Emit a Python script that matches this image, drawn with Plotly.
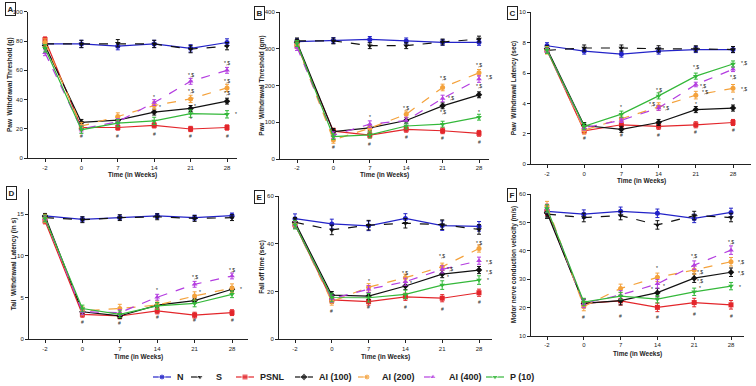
import plotly.graph_objects as go

weeks = ["-2", "0", "7", "14", "21", "28"]
groups = ["N", "S", "PSNL", "AI (100)", "AI (200)", "AI (400)", "P (10)"]

# ---- Panel A: Paw withdrawal threshold (g)
A_N = [78, 78, 76.5, 78, 75, 79]
A_S = [78, 78, 78.5, 78, 74.5, 76.5]
A_PSNL = [81, 21, 21, 22.5, 20, 21]
A_AI100 = [77, 24.5, 26, 31.5, 34, 39]
A_AI200 = [79, 22, 28.5, 36, 40.5, 48]
A_AI400 = [72, 20, 25, 38, 52.5, 60]
A_P10 = [75, 19.5, 24, 25.5, 30.5, 30]
A_SEM = [2.5, 2.5, 1.8, 2, 2.5, 2, 2.5]

# ---- Panel B: Paw withdrawal threshold (gm)
B_N = [320, 323, 326, 322, 318, 318]
B_S = [322, 322, 309, 309, 319, 327]
B_PSNL = [310, 76, 65, 81, 77, 70]
B_AI100 = [318, 75, 85, 105, 145, 175]
B_AI200 = [310, 52, 84, 122, 195, 235]
B_AI400 = [305, 65, 95, 105, 165, 218]
B_P10 = [315, 61, 66, 90, 95, 114]
B_SEM = [8, 8, 8, 8, 9, 9, 8]

# ---- Panel C: Paw withdrawal latency (sec)
C_N = [7.8, 7.45, 7.25, 7.45, 7.55, 7.55]
C_S = [7.5, 7.65, 7.65, 7.6, 7.6, 7.55]
C_PSNL = [7.5, 2.2, 2.6, 2.5, 2.6, 2.75]
C_AI100 = [7.6, 2.55, 2.3, 2.75, 3.6, 3.7]
C_AI200 = [7.5, 2.25, 3.0, 3.8, 4.55, 5.0]
C_AI400 = [7.5, 2.4, 2.9, 3.7, 5.25, 6.25]
C_P10 = [7.5, 2.5, 3.3, 4.5, 5.8, 6.6]
C_SEM = [0.2, 0.2, 0.2, 0.2, 0.25, 0.15, 0.2]

# ---- Panel D: Tail withdrawal latency (in s)
D_N = [14.8, 14.4, 14.6, 14.8, 14.6, 14.85]
D_S = [14.6, 14.35, 14.6, 14.7, 14.5, 14.6]
D_PSNL = [14.2, 3.0, 2.8, 3.4, 2.9, 3.2]
D_AI100 = [14.8, 3.3, 2.8, 4.1, 4.65, 6.0]
D_AI200 = [14.5, 3.4, 3.7, 4.1, 5.2, 6.15]
D_AI400 = [14.5, 3.3, 3.2, 5.05, 6.6, 7.6]
D_P10 = [14.5, 3.7, 3.0, 4.0, 4.3, 5.4]
D_SEM = [0.3, 0.35, 0.35, 0.3, 0.5, 0.35, 0.4]

# ---- Panel E: Fall off time (sec)
E_N = [50.5, 48.3, 47.5, 50.6, 47.6, 47.3]
E_S = [49, 45.8, 47.8, 48.6, 48, 46]
E_PSNL = [48, 16.5, 15.8, 17.8, 17.2, 19.5]
E_AI100 = [49, 18.5, 18.1, 22.3, 27.3, 29]
E_AI200 = [48, 15.8, 21.8, 25.8, 30.4, 38]
E_AI400 = [48, 17, 21, 24.1, 29.3, 32.9]
E_P10 = [48, 17.5, 17.4, 18.8, 22.7, 24.8]
E_SEM = [2, 2, 1.5, 1.5, 1.5, 1.5, 1.8]

# ---- Panel F: Motor nerve conduction velocity (m/s)
F_N = [54, 53, 54, 53.3, 51.5, 53.6]
F_S = [53, 51.8, 52.5, 49.2, 52.5, 51.8]
F_PSNL = [54, 21.5, 22.4, 20.1, 21.8, 21]
F_AI100 = [53.5, 21.5, 22.5, 25.3, 30.4, 32.5]
F_AI200 = [56, 20.4, 26.8, 30.7, 33.3, 36.2]
F_AI400 = [55, 21.5, 24.5, 28.4, 35, 40.3]
F_P10 = [55, 22, 24.1, 23, 25.6, 27.6]
F_SEM = [1.5, 1.5, 1.5, 1.5, 1.5, 1.5, 1.3]

# significance marks: (time index, y value, text)
A_marks = [(1, 15.5, "#"), (2, 15.5, "#"), (3, 16.5, "#"), (4, 15, "#"), (5, 15.5, "#"),
           (3, 42, "*"), (3.17, 35, "*"), (4, 57, "*,$"), (4, 46, "*,$"), (4.12, 36, "*"),
           (4, 26.5, "*"), (5, 65, "*,$"), (5, 53, "*,$"), (5, 44.5, "*,$"), (5.25, 30, "*")]
B_marks = [(1, 32, "#"), (2, 42, "#"), (3, 60, "#"), (4, 57, "#"), (5, 46, "#"),
           (2, 115, "*"), (3, 139, "*,$"), (4, 220, "*,$"), (4.22, 165, "*,$"), (4, 127, "*,$"),
           (5, 256, "*,$"), (5.27, 223, "*,$"), (5, 199, "*,$"), (5, 128, "*")]
C_marks = [(1, 1.75, "#"), (2, 1.9, "#"), (3, 1.9, "#"), (4, 2.15, "#"), (5, 2.25, "#"),
           (2, 3.75, "*"), (3, 4.9, "*,$"), (2.82, 4.0, "*,$"), (3.2, 3.7, "*,$"),
           (4, 6.4, "*,$"), (4.2, 5.15, "*,$"), (4.25, 4.75, "*,$"), (4, 4.0, "*"),
           (5.3, 6.65, "*,$"), (5, 5.75, "*,$"), (5.3, 4.95, "*,$"), (5, 4.2, "*")]
D_marks = [(1, 2.1, "#"), (2, 1.95, "#"), (3, 2.7, "#"), (4, 2.3, "#"), (5, 2.3, "#"),
           (3, 5.9, "*"), (4, 7.5, "*,$"), (4.15, 5.7, "*"), (5, 8.3, "*,$"), (5.25, 6.0, "*")]
E_marks = [(1, 12, "#"), (2, 13.5, "#"), (3, 13.7, "#"), (4, 12.7, "#"), (5, 15.7, "#"),
           (2, 24.5, "*"), (3, 27.9, "*,$"), (3.15, 23.5, "*"), (4, 34.9, "*,$"),
           (4.22, 29.4, "*,$"), (4.15, 26.2, "*"), (5, 40.5, "*,$"), (5.27, 32.5, "*,$"),
           (5.27, 28.3, "*,$"), (5.25, 24.8, "*")]
F_marks = [(1, 16.8, "#"), (2, 17.2, "#"), (3, 16.8, "#"), (4, 17.8, "#"), (5, 17.2, "#"),
           (3, 33.9, "*"), (3.18, 27.5, "*"), (2.85, 26.5, "*"), (4, 38.2, "*,$"),
           (4.17, 32.7, "*,$"), (4.17, 29.5, "*,$"), (4.15, 26.8, "*"),
           (5, 43.3, "*,$"), (5.27, 36.2, "*,$"), (5.27, 32.1, "*,$"), (5.25, 27.4, "*")]

y_titles = ["Paw  Withdrawal Threshold (g)", "Paw  Withdrawal Threshold (gm)",
            "Paw  Withdrawal Latency (sec)", "Tail  Withdrawal Latency (in s)",
            "Fall off time (sec)", "Motor nerve conduction velocity (m/s)"]
panel_letters = ["A", "B", "C", "D", "E", "F"]
y_ranges = [(0, 100), (0, 400), (0, 10), (0, 18), (0, 60), (10, 60)]
y_ticks = [[0, 20, 40, 60, 80, 100], [0, 100, 200, 300, 400], [0, 2, 4, 6, 8, 10],
           [0, 5, 10, 15], [0, 20, 40, 60], [10, 20, 30, 40, 50, 60]]

panels = [
    [A_N, A_S, A_PSNL, A_AI100, A_AI200, A_AI400, A_P10],
    [B_N, B_S, B_PSNL, B_AI100, B_AI200, B_AI400, B_P10],
    [C_N, C_S, C_PSNL, C_AI100, C_AI200, C_AI400, C_P10],
    [D_N, D_S, D_PSNL, D_AI100, D_AI200, D_AI400, D_P10],
    [E_N, E_S, E_PSNL, E_AI100, E_AI200, E_AI400, E_P10],
    [F_N, F_S, F_PSNL, F_AI100, F_AI200, F_AI400, F_P10],
]
sems = [A_SEM, B_SEM, C_SEM, D_SEM, E_SEM, F_SEM]
marks = [A_marks, B_marks, C_marks, D_marks, E_marks, F_marks]

# styles
colors = ["#2323c8", "#111111", "#e3262b", "#111111", "#f4a23c", "#b43ee0", "#34b83a"]
dashes = ["solid", "dash", "solid", "solid", "dash", "dash", "solid"]
symbols = ["circle", "triangle-down", "square", "diamond", "circle", "triangle-up", "triangle-down"]

# layout geometry in pixels: (axis left, axis right, first tick, last tick, y bottom, y top)
W, H = 756, 386
geom = [
    (28, 237, 45, 227, 158.3, 11.7),
    (280, 489, 297, 479, 159.0, 12.3),
    (531, 751, 547, 733, 164.3, 12.3),
    (29, 248, 45, 232, 339.3, 189.3),
    (279, 492, 295, 479, 339.3, 196.0),
    (531, 744, 547, 731, 336.0, 194.3),
]
ytitle_x = [10, 262, 514, 14, 262, 514]
xtitle_y = [174.5, 175, 180.5, 356.5, 356.5, 354]
label_pos = [(10, 9), (259.5, 12.5), (512, 12.5), (11, 193), (259, 196.5), (511.5, 195)]

FONT = "Arial, Liberation Sans, sans-serif"
fig = go.Figure()
layout = dict(width=W, height=H, margin=dict(l=0, r=0, t=0, b=0), autosize=False,
              paper_bgcolor="white", plot_bgcolor="rgba(0,0,0,0)", showlegend=False,
              font=dict(family=FONT, color="#222"))
annotations = []
xidx = list(range(len(weeks)))

for p in range(6):
    L, R, T0, T5, yb, yt = geom[p]
    s = (T5 - T0) / 5.0
    xr = [(L - T0) / s, (R - T0) / s]
    ax = "" if p == 0 else str(p + 1)
    layout["xaxis" + ax] = dict(domain=[L / W, R / W], range=xr, anchor="y" + ax,
                                tickvals=xidx, ticktext=weeks, showgrid=False, zeroline=False,
                                showline=True, linecolor="#222", linewidth=1,
                                ticks="outside", ticklen=3, tickcolor="#222", automargin=False,
                                tickfont=dict(size=6, family=FONT, color="#222"))
    layout["yaxis" + ax] = dict(domain=[1 - yb / H, 1 - yt / H], range=list(y_ranges[p]),
                                anchor="x" + ax, tickvals=y_ticks[p], showgrid=False,
                                zeroline=False, showline=True, linecolor="#222", linewidth=1,
                                ticks="outside", ticklen=3, tickcolor="#222", automargin=False,
                                tickfont=dict(size=6, family=FONT, color="#222"))
    for g in range(7):
        fig.add_trace(go.Scatter(
            x=xidx, y=panels[p][g], xaxis="x" + ax, yaxis="y" + ax, name=groups[g],
            mode="lines+markers",
            line=dict(color=colors[g], width=1.2, dash=dashes[g]),
            marker=dict(symbol=symbols[g], size=5, color=colors[g]),
            error_y=dict(type="constant", value=sems[p][g], color=colors[g],
                         thickness=1, width=2),
            cliponaxis=False, hoverinfo="skip"))
    for (xi, yv, t) in marks[p]:
        annotations.append(dict(x=xi, y=yv, xref="x" + ax, yref="y" + ax, text=t,
                                showarrow=False, font=dict(size=5, family=FONT, color="#222")))
    annotations.append(dict(x=ytitle_x[p] / W, y=1 - (yb + yt) / 2 / H, xref="paper",
                            yref="paper", text="<b>" + y_titles[p] + "</b>", textangle=-90,
                            xanchor="center", yanchor="middle",
                            showarrow=False, font=dict(size=6.5, family=FONT, color="#222")))
    annotations.append(dict(x=(L + R) / 2 / W, y=1 - xtitle_y[p] / H, xref="paper",
                            yref="paper", text="<b>Time (in Weeks)</b>", showarrow=False,
                            xanchor="center", yanchor="middle",
                            font=dict(size=6.5, family=FONT, color="#222")))
    lx, ly = label_pos[p]
    annotations.append(dict(x=lx / W, y=1 - ly / H, xref="paper", yref="paper",
                            text="<b>" + panel_letters[p] + "</b>", showarrow=False,
                            xanchor="center", yanchor="middle",
                            bordercolor="#222", borderwidth=1, borderpad=1.5,
                            font=dict(size=8, family=FONT, color="#222")))

# custom legend on a hidden pixel-coordinate axis in the bottom strip
legend_cx = [162, 200, 245, 304, 367, 433, 495]
legend_tx = [175, 214, 258, 317, 380, 447, 508]
legend_y = 377
layout["xaxis7"] = dict(domain=[0, 1], range=[0, W], visible=False, anchor="y7")
layout["yaxis7"] = dict(domain=[0, 20 / H], range=[H, H - 20], visible=False, anchor="x7")
for g in range(7):
    cx = legend_cx[g]
    fig.add_trace(go.Scatter(
        x=[cx - 9, cx, cx + 9], y=[legend_y] * 3, xaxis="x7", yaxis="y7",
        mode="lines+markers", line=dict(color=colors[g], width=1.2, dash=dashes[g]),
        marker=dict(symbol=symbols[g], size=[0, 6, 0], color=colors[g]),
        hoverinfo="skip"))
    annotations.append(dict(x=legend_tx[g], y=legend_y, xref="x7", yref="y7",
                            text="<b>" + groups[g] + "</b>", showarrow=False,
                            xanchor="left", yanchor="middle",
                            font=dict(size=9, family=FONT, color="#222")))

layout["annotations"] = annotations
fig.update_layout(**layout)
fig.write_html("out.html", config={"displayModeBar": False, "staticPlot": True},
               post_script="document.body.style.margin='0';document.body.style.overflow='hidden';")
